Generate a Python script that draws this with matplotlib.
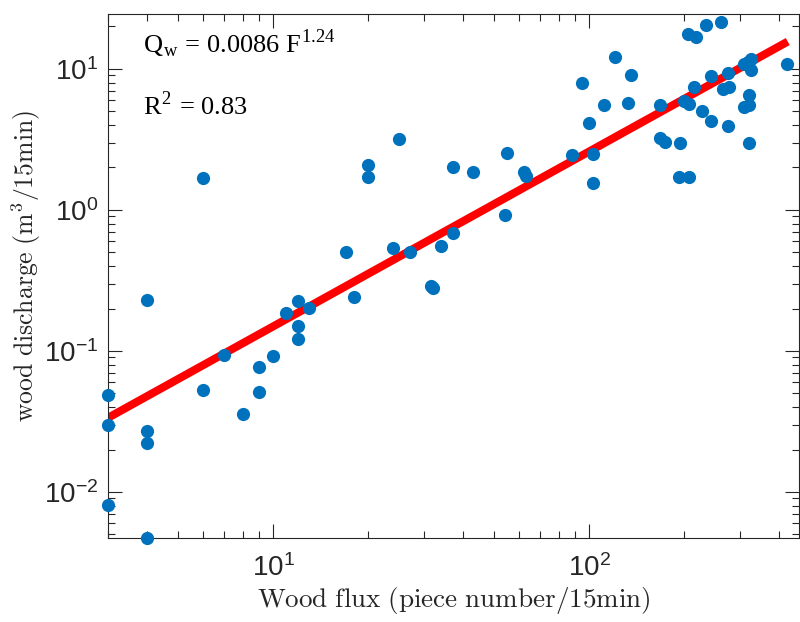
import matplotlib
matplotlib.use("Agg")
import matplotlib.pyplot as plt
import numpy as np

# dados (fluxo de madeira x descarga)
flux = [3, 3, 3,
        4, 4, 4, 4,
        6, 6,
        7, 8, 9, 9, 10, 11,
        12, 12, 12, 13,
        17, 18, 20, 20,
        24, 25, 27,
        31.5, 32, 34, 37, 37, 43,
        54, 55, 62, 63,
        88, 103, 103, 100, 95, 111, 121, 133, 136,
        168, 167, 174, 194, 193, 207,
        199, 207, 205, 217, 215, 228, 235, 243, 243,
        262, 266, 278, 275, 275,
        308, 320, 320, 320,
        310, 318, 326, 326,
        422]
discharge = [0.049, 0.030, 0.0081,
             0.23, 0.027, 0.0224, 0.0047,
             1.69, 0.053,
             0.094, 0.036, 0.077, 0.051, 0.092, 0.186,
             0.226, 0.150, 0.122, 0.202,
             0.50, 0.24, 2.09, 1.71,
             0.54, 3.19, 0.50,
             0.29, 0.28, 0.555, 0.69, 2.02, 1.86,
             0.92, 2.54, 1.86, 1.74,
             2.46, 2.5, 1.55, 4.14, 7.96, 5.56, 12.2, 5.74, 9.1,
             5.56, 3.24, 3.04, 2.98, 1.71, 1.71,
             5.93, 5.65, 17.7, 16.8, 7.45, 5.04, 20.5, 8.93, 4.28,
             21.5, 7.21, 7.45, 9.38, 3.94,
             5.37, 5.56, 6.54, 2.98,
             10.8, 11.2, 11.8, 9.84,
             10.8]

# ajuste potencia Q = a F^b
coef_a = 0.0086
coef_b = 1.24
fit_range = [3, 425]

plt.rcParams['font.family'] = ['Liberation Sans', 'DejaVu Sans']
plt.rcParams['mathtext.fontset'] = 'cm'

cinza = '#262626'

fig = plt.figure(figsize=(8, 6.22), dpi=100)
ax = fig.add_axes([0.135, 0.135, 0.864, 0.8425])

xf = np.array(fit_range, dtype=float)
ax.plot(xf, coef_a * xf ** coef_b, color='#ff0000', lw=5.8, solid_capstyle='butt', zorder=2)
ax.plot(flux, discharge, 'o', color='#0072BD', markersize=9.5, markeredgewidth=0,
        clip_on=False, zorder=3)

ax.set_xscale('log')
ax.set_yscale('log')
ax.set_xlim(3, 462)
ax.set_ylim(0.00472, 24.5)

for s in ax.spines.values():
    s.set_color(cinza)
    s.set_linewidth(0.8)

ax.tick_params(which='both', direction='in', top=True, right=True, colors=cinza,
               labelsize=20, width=0.8)
ax.tick_params(which='major', length=10)
ax.tick_params(which='minor', length=5)
ax.tick_params(axis='x', which='major', pad=12)
ax.tick_params(axis='y', which='major', pad=7)

ax.set_xlabel(r'$\mathrm{Wood\ flux\ (piece\ number/15min)}$', fontsize=19.5, color=cinza, labelpad=2)
ax.set_ylabel(r'$\mathrm{wood\ discharge\ (m^3/15min)}$', fontsize=18.5, color=cinza)
ax.yaxis.set_label_coords(-0.094, 0.519)

# texto da equacao
ax.text(0.051, 0.926, r'Q$_\mathdefault{w}$ = 0.0086 F$^\mathdefault{1.24}$', transform=ax.transAxes,
        family='Liberation Serif', fontsize=19, color='black', va='baseline')
ax.text(0.051, 0.807, r'R$^\mathdefault{2}$ = 0.83', transform=ax.transAxes,
        family='Liberation Serif', fontsize=19, color='black', va='baseline')

fig.savefig('out.png', dpi=100)
